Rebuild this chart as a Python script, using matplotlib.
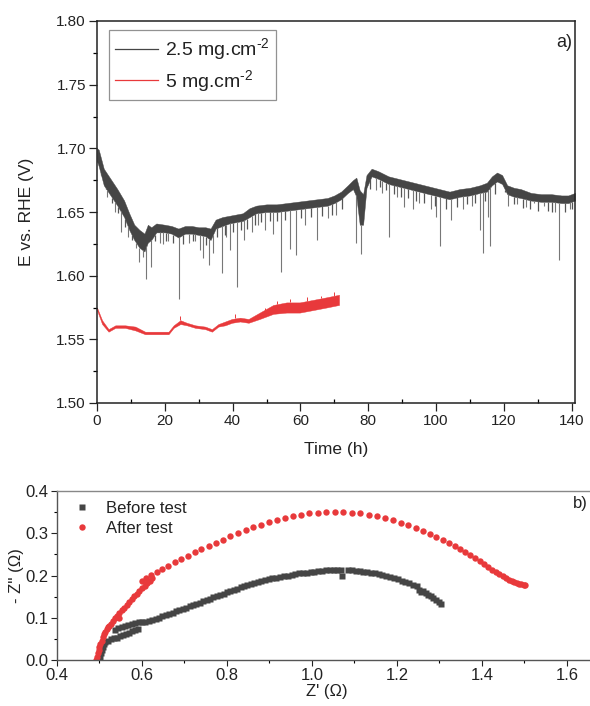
import numpy as np
import matplotlib
matplotlib.use("Agg")
import matplotlib.pyplot as plt
from matplotlib.ticker import MultipleLocator, FormatStrFormatter
from matplotlib.lines import Line2D

plt.rcParams['font.family'] = ['Liberation Sans', 'DejaVu Sans']
plt.rcParams['mathtext.default'] = 'regular'

### data: chronopotentiometry (a)

# 2.5 mg.cm-2, noisy band read as upper / lower edge
t_25 = [0, 0.5, 2, 4, 6, 8, 9.5, 11, 12.5, 14, 15, 16, 17.5, 20, 22, 24, 26, 28, 30, 32,
        33.5, 35, 37, 39, 41, 43, 45, 47, 50, 53, 56, 59, 62, 65, 68, 70, 72, 74, 75.5,
        76.5, 77.5, 78.5, 79.5, 81, 83, 86, 89, 92, 95, 98, 101, 104, 107, 110, 113, 115,
        116.5, 118, 119.5, 121, 123, 125, 128, 131, 134, 137, 139, 141]
e_25_hi = [1.700, 1.699, 1.684, 1.676, 1.668, 1.659, 1.649, 1.640, 1.636, 1.633, 1.640, 1.638,
           1.641, 1.640, 1.639, 1.637, 1.639, 1.639, 1.638, 1.638, 1.637, 1.644, 1.646, 1.647,
           1.648, 1.649, 1.653, 1.655, 1.656, 1.656, 1.657, 1.658, 1.659, 1.660, 1.661, 1.663,
           1.666, 1.671, 1.675, 1.677, 1.667, 1.664, 1.679, 1.684, 1.682, 1.678, 1.676, 1.674,
           1.672, 1.670, 1.668, 1.666, 1.668, 1.669, 1.671, 1.673, 1.678, 1.681, 1.679, 1.671,
           1.669, 1.668, 1.665, 1.664, 1.664, 1.663, 1.663, 1.665]
e_25_lo = [1.690, 1.686, 1.671, 1.663, 1.655, 1.646, 1.636, 1.628, 1.622, 1.619, 1.626, 1.628,
           1.634, 1.634, 1.633, 1.630, 1.633, 1.633, 1.632, 1.631, 1.628, 1.637, 1.639, 1.641,
           1.642, 1.643, 1.646, 1.649, 1.650, 1.650, 1.651, 1.652, 1.653, 1.654, 1.655, 1.657,
           1.660, 1.665, 1.668, 1.662, 1.640, 1.640, 1.669, 1.678, 1.676, 1.672, 1.670, 1.668,
           1.666, 1.664, 1.662, 1.660, 1.662, 1.663, 1.665, 1.666, 1.671, 1.674, 1.672, 1.664,
           1.662, 1.661, 1.659, 1.658, 1.658, 1.657, 1.657, 1.659]
# downward spikes: time, lowest value
spike_25_t = [3.0, 5.2, 7.0, 9.0, 11.5, 12.5, 13.5, 14.6, 16.0, 18.5, 19.6, 21.0, 24.3, 27.0,
              29.0, 30.4, 31.3, 33.0, 34.2, 36.9, 38.0, 39.2, 41.2, 43.5, 45.6, 47.5, 49.5,
              52.0, 54.4, 56.9, 58.8, 61.5, 64.9, 68.0, 70.6, 76.3, 77.8, 82.2, 84.0, 86.2,
              88.5, 90.5, 93.2, 95.1, 98.6, 100.1, 101.3, 104.5, 108.0, 110.5, 112.9, 113.9,
              115.3, 116.0, 121.2, 124.0, 126.5, 128.9, 132.0, 135.0, 136.3, 139.5]
spike_25_e = [1.662, 1.650, 1.634, 1.630, 1.622, 1.611, 1.615, 1.597, 1.607, 1.626, 1.625, 1.627,
              1.582, 1.626, 1.627, 1.620, 1.614, 1.608, 1.618, 1.602, 1.630, 1.620, 1.591, 1.628,
              1.634, 1.640, 1.636, 1.633, 1.603, 1.621, 1.616, 1.640, 1.628, 1.645, 1.648, 1.626,
              1.617, 1.667, 1.665, 1.630, 1.662, 1.654, 1.652, 1.657, 1.652, 1.646, 1.623, 1.644,
              1.652, 1.655, 1.636, 1.618, 1.646, 1.623, 1.655, 1.656, 1.654, 1.657, 1.655, 1.650,
              1.612, 1.652]
# short dark flicker below the band
flick_25_t = [1.2, 2.6, 4.5, 6.3, 8.2, 10.2, 17.0, 20.5, 22.5, 25.5, 28.2, 32.3, 35.5, 37.8,
              40.2, 42.4, 44.2, 46.6, 48.5, 51.0, 53.2, 55.6, 60.1, 63.0, 66.5, 69.2, 72.3,
              80.6, 83.6, 85.2, 87.6, 89.6, 91.6, 94.1, 96.6, 99.6, 103.0, 106.1, 109.2, 111.6,
              114.5, 117.4, 120.4, 123.1, 125.6, 127.6, 130.2, 133.1, 134.3, 138.1, 140.2]
flick_25_e = [1.681, 1.668, 1.657, 1.649, 1.638, 1.628, 1.627, 1.627, 1.626, 1.625, 1.627, 1.624,
              1.630, 1.632, 1.634, 1.636, 1.637, 1.640, 1.642, 1.643, 1.643, 1.644, 1.645, 1.646,
              1.647, 1.648, 1.652, 1.668, 1.670, 1.667, 1.664, 1.662, 1.661, 1.659, 1.657, 1.655,
              1.652, 1.654, 1.656, 1.657, 1.659, 1.664, 1.666, 1.656, 1.653, 1.652, 1.651, 1.651,
              1.650, 1.650, 1.652]

# 5 mg.cm-2
t_5 = [0, 1.5, 3.4, 5.4, 8.3, 11.3, 14.2, 18.2, 21.1, 22.6, 24.6, 26.5, 29, 31.9, 33.9,
       35.8, 37.8, 39.8, 42.2, 44.7, 48, 52, 55.9, 59.8, 63.8, 67.7, 71.4]
e_5_hi = [1.575, 1.565, 1.558, 1.561, 1.561, 1.560, 1.556, 1.556, 1.556, 1.561, 1.565, 1.563,
          1.561, 1.560, 1.558, 1.562, 1.564, 1.566, 1.567, 1.566, 1.571, 1.577, 1.579, 1.579,
          1.581, 1.583, 1.585]
e_5_lo = [1.573, 1.562, 1.556, 1.559, 1.559, 1.557, 1.554, 1.554, 1.554, 1.559, 1.562, 1.561,
          1.559, 1.558, 1.556, 1.560, 1.561, 1.563, 1.564, 1.563, 1.566, 1.570, 1.571, 1.571,
          1.573, 1.575, 1.577]
spike_5_t = [24.6, 40.7, 49.5, 53.0, 57.0, 62.0, 66.0, 70.0]
spike_5_e = [1.568, 1.570, 1.575, 1.580, 1.582, 1.583, 1.584, 1.587]

### data: Nyquist (b)

z_re_before = [0.500, 0.502, 0.504, 0.506, 0.508, 0.510,
               0.514, 0.520, 0.527, 0.534, 0.541, 0.548, 0.555, 0.562, 0.569, 0.576, 0.583, 0.590,
               0.536, 0.544, 0.552, 0.560, 0.568, 0.576, 0.584, 0.592, 0.600, 0.608, 0.616, 0.624,
               0.632, 0.640, 0.648, 0.656, 0.664, 0.672, 0.680, 0.688, 0.696, 0.704, 0.712, 0.720,
               0.728, 0.736, 0.744, 0.752, 0.760, 0.768, 0.776, 0.784, 0.792, 0.800, 0.808, 0.816,
               0.824, 0.832, 0.840, 0.848, 0.856, 0.864, 0.872, 0.880, 0.889, 0.898, 0.907, 0.916,
               0.925, 0.934, 0.943, 0.952, 0.961, 0.970, 0.979, 0.988, 0.997, 1.006, 1.015, 1.024,
               1.033, 1.042, 1.051, 1.060, 1.068, 1.070, 1.085, 1.094, 1.103, 1.112, 1.121, 1.130,
               1.139, 1.148, 1.157, 1.166, 1.175, 1.184, 1.193, 1.202, 1.211, 1.220, 1.229, 1.238,
               1.247, 1.252, 1.256, 1.262, 1.268, 1.274, 1.280, 1.286, 1.292, 1.298, 1.304]
z_im_before = [0.000, 0.008, 0.016, 0.024, 0.031, 0.037,
               0.043, 0.046, 0.049, 0.051, 0.053, 0.056, 0.059, 0.062, 0.065, 0.068, 0.071, 0.073,
               0.072, 0.075, 0.078, 0.081, 0.083, 0.085, 0.087, 0.089, 0.090, 0.091, 0.093, 0.095,
               0.097, 0.100, 0.103, 0.106, 0.109, 0.112, 0.115, 0.118, 0.121, 0.124, 0.127, 0.130,
               0.133, 0.136, 0.139, 0.142, 0.145, 0.148, 0.151, 0.154, 0.157, 0.160, 0.163, 0.166,
               0.169, 0.172, 0.175, 0.177, 0.180, 0.182, 0.185, 0.187, 0.189, 0.191, 0.193, 0.195,
               0.197, 0.199, 0.200, 0.202, 0.203, 0.205, 0.206, 0.207, 0.208, 0.209, 0.210, 0.211,
               0.212, 0.212, 0.213, 0.213, 0.213, 0.198, 0.212, 0.212, 0.211, 0.210, 0.209, 0.208,
               0.206, 0.205, 0.203, 0.201, 0.199, 0.197, 0.194, 0.191, 0.188, 0.185, 0.182, 0.178,
               0.176, 0.166, 0.160, 0.163, 0.159, 0.155, 0.151, 0.146, 0.141, 0.137, 0.133]

z_re_after = [0.492, 0.494, 0.496, 0.498, 0.500, 0.502, 0.505, 0.508, 0.511, 0.514, 0.518, 0.522,
              0.526, 0.531, 0.536, 0.541, 0.546, 0.552, 0.558, 0.564, 0.570, 0.576, 0.582, 0.588,
              0.594, 0.600, 0.606, 0.612, 0.618, 0.623,
              0.521, 0.545, 0.600, 0.610, 0.622, 0.635, 0.648, 0.662, 0.677, 0.692, 0.708, 0.724,
              0.740, 0.757, 0.774, 0.791, 0.808, 0.826, 0.844, 0.862, 0.880, 0.899, 0.918, 0.937,
              0.956, 0.975, 0.994, 1.014, 1.034, 1.054, 1.074, 1.094, 1.114, 1.134, 1.153, 1.172,
              1.191, 1.209, 1.227, 1.244, 1.261, 1.277, 1.293, 1.308, 1.322, 1.336, 1.349, 1.361,
              1.373, 1.384, 1.395, 1.405, 1.415, 1.424, 1.433, 1.441, 1.449, 1.456, 1.463, 1.470,
              1.476, 1.482, 1.488, 1.493, 1.498, 1.502]
z_im_after = [0.000, 0.008, 0.016, 0.023, 0.030, 0.037, 0.046, 0.054, 0.061, 0.067, 0.074, 0.080,
              0.086, 0.093, 0.099, 0.105, 0.111, 0.118, 0.124, 0.130, 0.137, 0.144, 0.151, 0.157,
              0.164, 0.170, 0.176, 0.182, 0.188, 0.193,
              0.079, 0.100, 0.186, 0.193, 0.201, 0.209, 0.216, 0.223, 0.231, 0.239, 0.247, 0.255,
              0.262, 0.270, 0.278, 0.285, 0.293, 0.300, 0.307, 0.314, 0.320, 0.326, 0.332, 0.337,
              0.341, 0.344, 0.347, 0.349, 0.350, 0.350, 0.350, 0.349, 0.347, 0.344, 0.340, 0.336,
              0.331, 0.325, 0.319, 0.313, 0.306, 0.299, 0.292, 0.284, 0.277, 0.270, 0.262, 0.255,
              0.248, 0.241, 0.234, 0.227, 0.220, 0.214, 0.208, 0.203, 0.198, 0.194, 0.190, 0.187,
              0.184, 0.182, 0.180, 0.179, 0.178, 0.178]

black = '#454545'
red = '#e8393b'
txt = '#222222'

fig = plt.figure(figsize=(5.9, 7.06), dpi=100)

### panel a
ax = fig.add_axes([97/590, 1 - 403/706, 478/590, 382/706])
ax.fill_between(t_25, e_25_lo, e_25_hi, color=black, lw=0.3, edgecolor=black)
ax.vlines(spike_25_t, spike_25_e, np.interp(spike_25_t, t_25, e_25_lo), color='#777777', lw=0.8)
ax.vlines(flick_25_t, flick_25_e, np.interp(flick_25_t, t_25, e_25_lo), color='#555555', lw=0.9)
ax.fill_between(t_5, e_5_lo, e_5_hi, color=red, lw=0.3, edgecolor=red)
ax.vlines(spike_5_t, np.interp(spike_5_t, t_5, e_5_hi), spike_5_e, color=red, lw=0.7)

ax.set_xlim(0, 141)
ax.set_ylim(1.50, 1.80)
ax.xaxis.set_major_locator(MultipleLocator(20))
ax.xaxis.set_minor_locator(MultipleLocator(10))
ax.yaxis.set_major_locator(MultipleLocator(0.05))
ax.yaxis.set_minor_locator(MultipleLocator(0.025))
ax.yaxis.set_major_formatter(FormatStrFormatter('%.2f'))
ax.tick_params(which='major', direction='out', length=6, width=0.9, labelsize=11,
               colors=txt, pad=2)
ax.tick_params(axis='x', which='minor', direction='in', length=3, width=0.9)
ax.tick_params(axis='y', which='minor', direction='out', length=3, width=0.9)
for s in ax.spines.values():
    s.set_linewidth(1.1)
    s.set_color('#222222')

ax.set_xlabel('Time (h)', fontsize=12.5, color=txt)
ax.set_ylabel('E vs. RHE (V)', fontsize=12.5, color=txt)
ax.xaxis.set_label_coords(0.5, -0.102)
ax.yaxis.set_label_coords(-0.132, 0.5)
ax.text(0.995, 0.965, 'a)', transform=ax.transAxes, ha='right', va='top', fontsize=13, color=txt)

handles = [Line2D([], [], color=black, lw=0.9), Line2D([], [], color=red, lw=0.9)]
leg = ax.legend(handles, ['2.5 mg.cm$^{\u2010 2}$', '5 mg.cm$^{\u2010 2}$'], loc='upper left',
                bbox_to_anchor=(109/590, 1 - 30.5/706), bbox_transform=fig.transFigure,
                fontsize=14, frameon=True, fancybox=False, borderpad=0.3, borderaxespad=0,
                handlelength=2.2, handletextpad=0.4, labelspacing=0.3)
leg.get_frame().set_edgecolor('#777777')
leg.get_frame().set_linewidth(0.9)
for t in leg.get_texts():
    t.set_color(txt)

### panel b
bx = fig.add_axes([57/590, 1 - 660/706, 543/590, 169/706])
bx.plot(z_re_before, z_im_before, 's', color=black, ms=4.3, mec='none', label='Before test')
bx.plot(z_re_after, z_im_after, 'o', color=red, ms=4.6, mec='none', label='After test')

bx.set_xlim(0.4, 1.678)
bx.set_ylim(0, 0.4)
bx.xaxis.set_major_locator(MultipleLocator(0.2))
bx.xaxis.set_minor_locator(MultipleLocator(0.1))
bx.yaxis.set_major_locator(MultipleLocator(0.1))
bx.yaxis.set_minor_locator(MultipleLocator(0.05))
bx.xaxis.set_major_formatter(FormatStrFormatter('%.1f'))
bx.yaxis.set_major_formatter(FormatStrFormatter('%.1f'))
bx.tick_params(which='major', direction='out', length=4, width=0.8, labelsize=12,
               colors=txt, pad=2)
bx.tick_params(which='minor', direction='out', length=2.5, width=0.8)
for s in bx.spines.values():
    s.set_linewidth(1.0)
    s.set_color('#555555')
bx.spines['top'].set_color('#888888')

bx.set_xlabel("Z' (\u03a9)", fontsize=12, color=txt)
bx.set_ylabel("- Z'' (\u03a9)", fontsize=12, color=txt)
bx.xaxis.set_label_coords(0.497, -0.14)
bx.yaxis.set_label_coords(-0.06, 0.5)
fig.text(573/590, 1 - 496/706, 'b)', ha='left', va='top', fontsize=12, color=txt)

lg = bx.legend(loc='upper left', bbox_to_anchor=(74/590, 1 - 501/706),
               bbox_transform=fig.transFigure, frameon=False, fontsize=12,
               borderpad=0, borderaxespad=0, handlelength=1.0, handletextpad=0.9,
               labelspacing=0.3, markerscale=1.0)
for t in lg.get_texts():
    t.set_color(txt)

fig.savefig('out.png', dpi=100)
